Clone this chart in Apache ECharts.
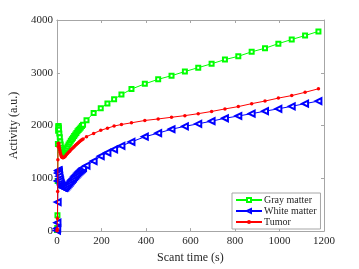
<!DOCTYPE html>
<html>
<head>
<meta charset="utf-8">
<script src="https://cdn.jsdelivr.net/npm/echarts@6/dist/echarts.min.js"></script>
<style>html,body{margin:0;padding:0;background:#fff;}#c{width:359px;height:269px;}</style>
</head>
<body>
<div id="c"></div>
<script>
const times = [0.5,1.5,2.5,3.5,4.5,5.5,6.5,7.5,8.5,9.5,11,13,15,17,19,21,23,25,27,29,
  32.5,37.5,42.5,47.5,52.5,57.5,62.5,67.5,72.5,77.5,82.5,87.5,92.5,97.5,102.5,107.5,112.5,117.5,
  133,165,197,227,257,290,335,395,455,515,575,635,695,755,815,875,935,995,1055,1115,1175];
const grayMatter = [20,60,300,950,1650,1900,1980,1990,1960,1920,1850,1780,1700,1640,1580,1540,1510,1490,1480,1485,
  1500,1535,1570,1605,1640,1675,1710,1740,1770,1800,1830,1860,1890,1915,1940,1965,1990,2015,
  2100,2236,2330,2420,2500,2586,2691,2790,2876,2945,3023,3097,3171,3250,3312,3397,3465,3552,3631,3705,3784];
const whiteMatter = [10,50,160,550,950,1100,1150,1150,1120,1090,1040,990,950,910,880,860,845,835,828,822,
  820,830,850,875,900,925,950,975,1000,1025,1050,1075,1100,1120,1140,1160,1180,1200,
  1240,1327,1419,1485,1548,1616,1690,1788,1856,1930,1985,2033,2083,2138,2181,2225,2273,2317,2365,2415,2464];
const tumor = [5,40,240,750,1350,1600,1660,1665,1640,1610,1570,1530,1490,1460,1430,1410,1400,1395,1392,1395,
  1400,1420,1445,1470,1495,1515,1540,1560,1580,1600,1620,1640,1660,1680,1700,1715,1730,1745,
  1790,1850,1910,1950,1990,2020,2052,2096,2125,2157,2188,2225,2267,2315,2359,2415,2464,2520,2568,2630,2697];
const seriesNames = ['Gray matter','White matter','Tumor'];
const xTicks = {min:0,max:1200,interval:200};
const yTicks = {min:0,max:4000,interval:1000};

const pair = arr => times.map((t,i)=>[t,arr[i]]);
const font = 'Liberation Serif';
const axisGray = '#a6a6a6';
const textCol = '#262626';

const chart = echarts.init(document.getElementById('c'));
const baseAxis = () => ({
  axisLine:{show:true,onZero:false,lineStyle:{color:axisGray,width:1}},
  axisTick:{show:true,inside:true,length:3,lineStyle:{color:axisGray}},
  splitLine:{show:false}
});
const plain = v => String(v);
chart.setOption({
  animation:false,
  backgroundColor:'#fff',
  grid:{left:47,right:35,top:20,bottom:32,show:false},
  xAxis:[
    Object.assign({type:'value',position:'bottom',min:xTicks.min,max:xTicks.max,interval:xTicks.interval,
      name:'Scant time (s)',nameLocation:'middle',nameGap:19,
      nameTextStyle:{fontFamily:font,fontSize:12,color:textCol},
      axisLabel:{fontFamily:font,fontSize:11,color:textCol,margin:5,formatter:plain}},baseAxis()),
    Object.assign({type:'value',position:'top',min:xTicks.min,max:xTicks.max,interval:xTicks.interval,
      axisLabel:{show:false}},baseAxis())
  ],
  yAxis:[
    Object.assign({type:'value',position:'left',min:yTicks.min,max:yTicks.max,interval:yTicks.interval,
      name:'Activity (a.u.)',nameLocation:'middle',nameGap:30,
      nameTextStyle:{fontFamily:font,fontSize:12,color:textCol},
      axisLabel:{fontFamily:font,fontSize:11,color:textCol,margin:4,formatter:plain}},baseAxis()),
    Object.assign({type:'value',position:'right',min:yTicks.min,max:yTicks.max,interval:yTicks.interval,
      axisLabel:{show:false}},baseAxis())
  ],
  legend:{
    orient:'vertical',left:232,top:193,
    backgroundColor:'#fff',borderColor:axisGray,borderWidth:1,
    padding:[2,4,2,3],itemGap:1,itemWidth:26,itemHeight:5,
    textStyle:{fontFamily:font,fontSize:10,color:textCol,padding:[0,0,0,-3]},
    data:seriesNames
  },
  series:[
    {name:seriesNames[0],type:'line',data:pair(grayMatter),symbol:'emptyRect',symbolSize:4,
     showAllSymbol:true,color:'#00ff00',lineStyle:{width:1,color:'#00ff00'},itemStyle:{color:'#00ff00',borderWidth:0.8},z:3},
    {name:seriesNames[1],type:'line',data:pair(whiteMatter),symbol:'emptyTriangle',symbolSize:6,symbolRotate:90,
     showAllSymbol:true,color:'#0000ff',lineStyle:{width:1,color:'#0000ff'},itemStyle:{color:'#0000ff',borderWidth:0.7},z:4},
    {name:seriesNames[2],type:'line',data:pair(tumor),symbol:'circle',symbolSize:3.5,
     showAllSymbol:true,color:'#ff0000',lineStyle:{width:1,color:'#ff0000'},itemStyle:{color:'#ff0000'},z:5}
  ]
});
</script>
</body>
</html>
